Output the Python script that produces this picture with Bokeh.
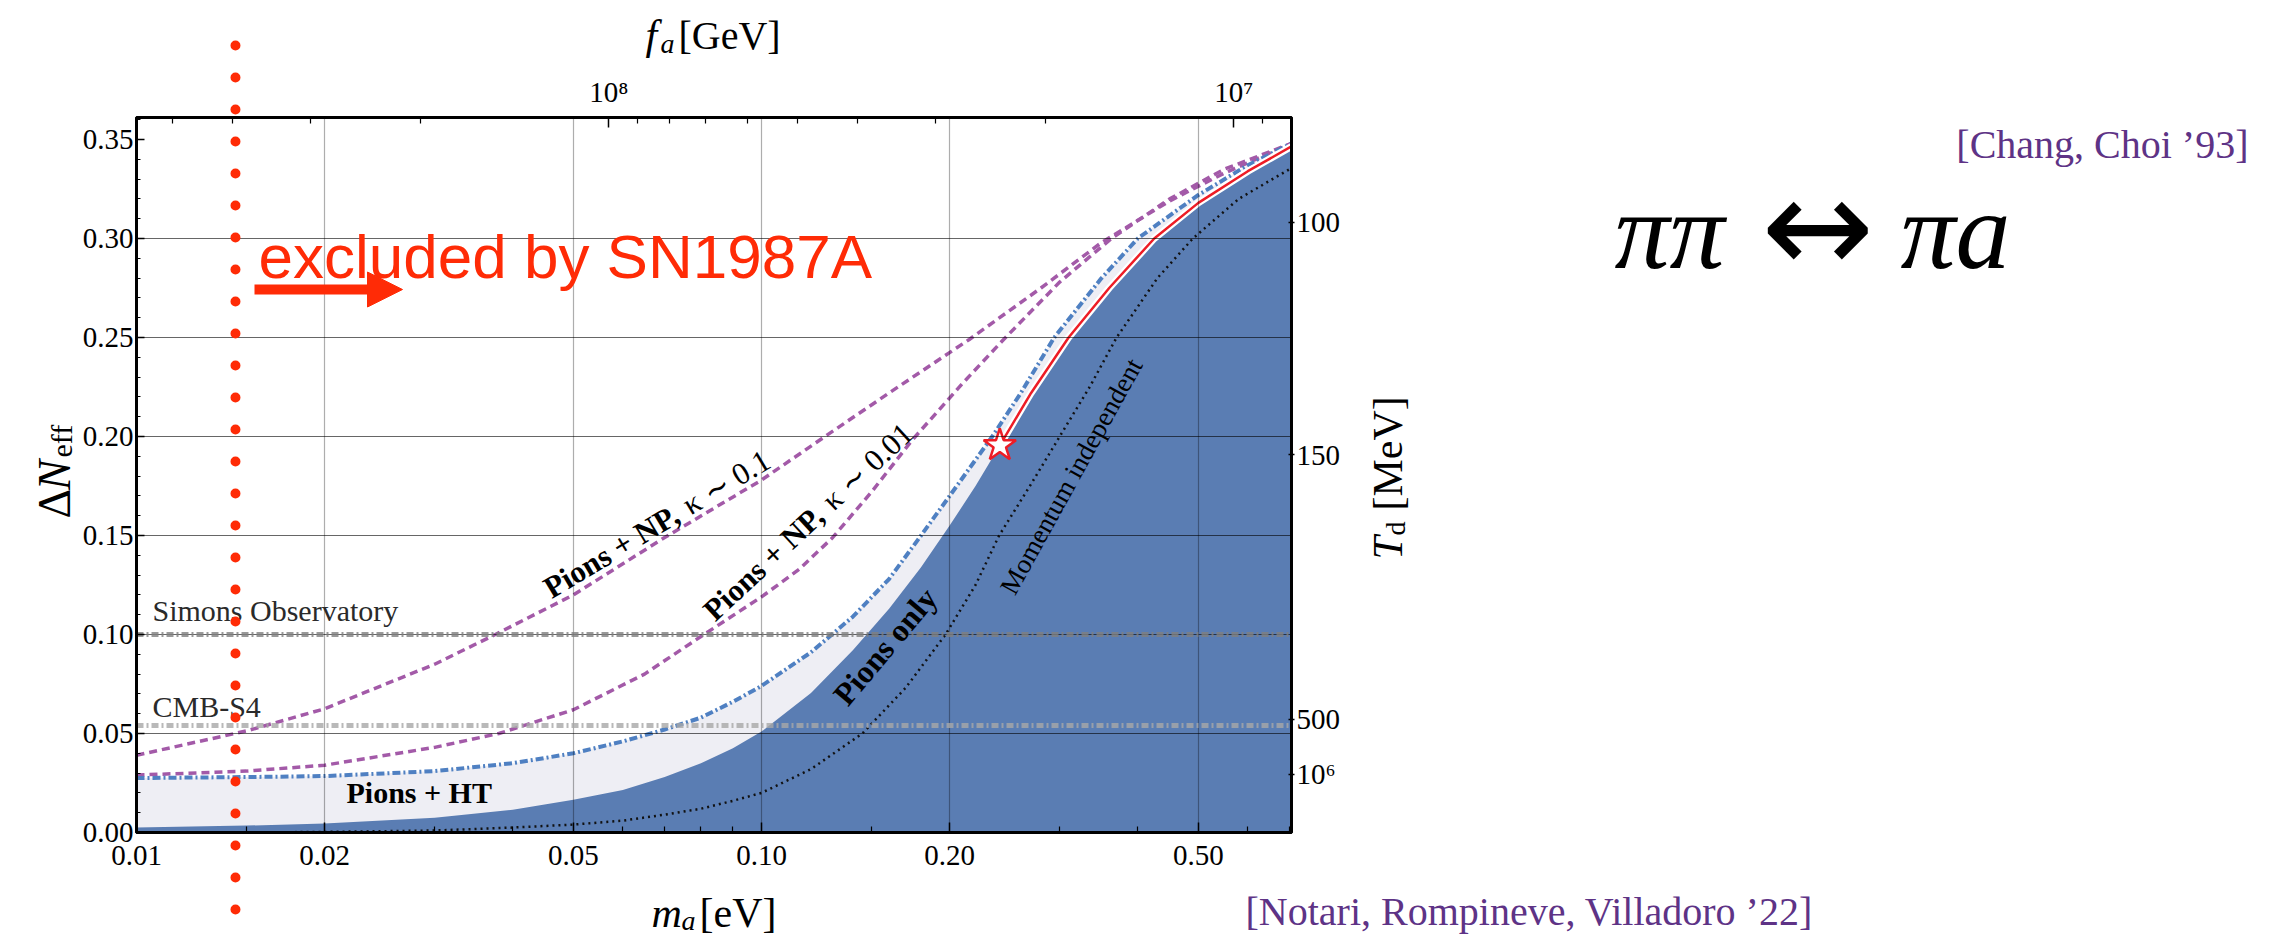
import math
from bokeh.plotting import figure
from bokeh.layouts import column
from bokeh.models import (Range1d, LogScale, LogAxis, LinearAxis, FixedTicker, SingleIntervalTicker,
                          NumeralTickFormatter, CustomJSTickFormatter, Label, Arrow, NormalHead, Span)
from bokeh.embed import file_html
from bokeh.resources import INLINE

# ---------------- data ----------------
# Pions only (filled region, upper boundary up to the star)
M_PIONS = [0.01, 0.015, 0.02, 0.03, 0.04, 0.05, 0.06, 0.07, 0.08, 0.09, 0.10, 0.12, 0.14, 0.16, 0.18, 0.20, 0.22, 0.2406]
DN_PIONS = [0.0025, 0.0035, 0.0045, 0.0075, 0.0115, 0.0165, 0.0215, 0.028, 0.035, 0.0425, 0.051, 0.0705, 0.092, 0.113, 0.134, 0.155, 0.175, 0.1955]
# red (momentum dependent, above the star)
M_RED = [0.2406, 0.27, 0.31, 0.36, 0.425, 0.50, 0.60, 0.7047]
DN_RED = [0.1955, 0.222, 0.25, 0.275, 0.30, 0.318, 0.334, 0.3465]
# Pions + HT (dash-dot)
M_HT = [0.01, 0.015, 0.02, 0.03, 0.04, 0.05, 0.06, 0.07, 0.08, 0.09, 0.10, 0.12, 0.14, 0.16, 0.18, 0.20, 0.234, 0.26, 0.294, 0.35, 0.40, 0.50, 0.60, 0.7047]
DN_HT = [0.0275, 0.028, 0.0285, 0.031, 0.035, 0.040, 0.046, 0.052, 0.058, 0.066, 0.074, 0.091, 0.109, 0.128, 0.150, 0.170, 0.20, 0.222, 0.25, 0.28, 0.30, 0.322, 0.337, 0.348]
# Pions + NP, kappa ~ 0.1
M_NP1 = [0.01, 0.015, 0.02, 0.03, 0.0375, 0.05, 0.07, 0.10, 0.125, 0.16, 0.215, 0.28, 0.35, 0.45, 0.55, 0.7047]
DN_NP1 = [0.039, 0.0513, 0.0625, 0.085, 0.100, 0.120, 0.149, 0.178, 0.199, 0.222, 0.249, 0.275, 0.298, 0.319, 0.333, 0.348]
# Pions + NP, kappa ~ 0.01
M_NP2 = [0.01, 0.015, 0.02, 0.03, 0.038, 0.05, 0.065, 0.08, 0.10, 0.115, 0.13, 0.15, 0.174, 0.21, 0.244, 0.30, 0.363, 0.45, 0.55, 0.7047]
DN_NP2 = [0.029, 0.031, 0.034, 0.043, 0.050, 0.062, 0.080, 0.099, 0.119, 0.133, 0.149, 0.172, 0.198, 0.227, 0.249, 0.278, 0.300, 0.320, 0.335, 0.348]
# Momentum independent (dotted)
M_MI = [0.015, 0.02, 0.03, 0.04, 0.05, 0.06, 0.07, 0.08, 0.09, 0.10, 0.12, 0.145, 0.17, 0.197, 0.22, 0.24, 0.27, 0.30, 0.335, 0.37, 0.43, 0.49, 0.58, 0.7047]
DN_MI = [0.0, 0.0003, 0.001, 0.0025, 0.004, 0.006, 0.009, 0.012, 0.016, 0.020, 0.032, 0.050, 0.073, 0.100, 0.125, 0.150, 0.176, 0.200, 0.225, 0.250, 0.280, 0.300, 0.320, 0.3356]

SO_LEVEL = 0.10      # Simons Observatory
S4_LEVEL = 0.054     # CMB-S4
SN_MA = 0.0144       # SN1987A bound

XTICKS = [0.01, 0.02, 0.05, 0.10, 0.20, 0.50]
XMINOR = [0.015, 0.03, 0.04, 0.06, 0.07, 0.08, 0.09, 0.15, 0.3, 0.4, 0.6, 0.7]
XGRID = [0.02, 0.05, 0.10, 0.20, 0.50]
YGRID = [0.05, 0.10, 0.15, 0.20, 0.25, 0.30]
FA_PER_MA = 5.7e6
FA_TICKS = [1e7, 1e8]
FA_LABELS = ["10⁷", "10⁸"]
FA_MINOR = [9e6, 2e7, 3e7, 4e7, 5e7, 6e7, 7e7, 8e7, 9e7, 2e8, 3e8, 4e8, 5e8]
TD_POS = [0.3082, 0.1908, 0.0571, 0.0293]
TD_LABELS = ["100", "150", "500", "10⁶"]

# ---------------- layout ----------------
W, H = 2283, 937
FL, FR, FT, FB = 136, 1291, 117, 832   # frame edges in page pixels
DEC = 625.0
XMIN = 0.01
XMAX = XMIN * 10 ** ((FR - FL) / DEC)
PXU = 1980.0
YMAX = (FB - FT) / PXU


def mx(X):
    return XMIN * 10 ** ((X - FL) / DEC)


def ny(Y):
    return (FB - Y) / PXU


SERIF = "Liberation Serif"
RED = "#ff2b06"
BLUE = "#5a7db3"
LIGHT = "#eeeef4"
HTBLUE = "#4f80c2"
PURPLE = "#a35aa8"
CITE = "#5e3386"

p = figure(width=W, height=H, x_axis_type="log",
           x_range=Range1d(XMIN, XMAX), y_range=Range1d(0, YMAX),
           output_backend="svg", toolbar_location=None,
           min_border_left=FL, min_border_right=W - FR,
           min_border_top=FT, min_border_bottom=H - FB,
           background_fill_color="white", border_fill_color="white")
p.frame_align = False
p.outline_line_color = "black"
p.outline_line_width = 3

p.extra_x_ranges = {"fa": Range1d(FA_PER_MA / XMIN, FA_PER_MA / XMAX)}
p.extra_x_scales = {"fa": LogScale()}


def style_axis(ax, tin, tout, minin, standoff):
    ax.axis_line_width = 3
    ax.axis_line_color = "black"
    ax.major_tick_in = tin
    ax.major_tick_out = tout
    ax.minor_tick_in = minin
    ax.minor_tick_out = 0
    ax.major_tick_line_width = 1.5
    ax.minor_tick_line_width = 1.2
    ax.major_tick_line_color = "black"
    ax.minor_tick_line_color = "black"
    ax.major_label_text_font = SERIF
    ax.major_label_text_font_size = "29px"
    ax.major_label_text_color = "black"
    ax.major_label_standoff = standoff


xb = p.xaxis[0]
xb.ticker = FixedTicker(ticks=XTICKS, minor_ticks=XMINOR)
xb.formatter = NumeralTickFormatter(format="0.00")
style_axis(xb, 10, 0, 6, 13)

yl = p.yaxis[0]
yl.ticker = SingleIntervalTicker(interval=0.05, num_minor_ticks=5)
yl.formatter = NumeralTickFormatter(format="0.00")
style_axis(yl, 8, 0, 4, 3)

lookup = """
for (let i = 0; i < pos.length; i++) {
  if (Math.abs(pos[i] - tick) <= 1e-6 * Math.abs(pos[i])) { return lab[i]; }
}
return "";
"""
ta = LogAxis(x_range_name="fa", ticker=FixedTicker(ticks=FA_TICKS, minor_ticks=FA_MINOR),
             formatter=CustomJSTickFormatter(args=dict(pos=FA_TICKS, lab=FA_LABELS), code=lookup))
style_axis(ta, 10, 0, 6, 10)
p.add_layout(ta, "above")

ra = LinearAxis(ticker=FixedTicker(ticks=TD_POS, minor_ticks=[]),
                formatter=CustomJSTickFormatter(args=dict(pos=TD_POS, lab=TD_LABELS), code=lookup))
style_axis(ra, 3, 3, 0, 2)
p.add_layout(ra, "right")

p.xgrid.ticker = FixedTicker(ticks=XGRID)
p.ygrid.ticker = FixedTicker(ticks=YGRID)
p.xgrid.grid_line_color = "black"
p.xgrid.grid_line_alpha = 0.32
p.xgrid.grid_line_width = 1.2
p.ygrid.grid_line_color = "black"
p.ygrid.grid_line_alpha = 0.6
p.ygrid.grid_line_width = 1.2
p.xgrid.level = "glyph"
p.ygrid.level = "glyph"

# ---------------- regions ----------------
p.patch(M_HT + [M_HT[-1], M_HT[0]], DN_HT + [0, 0], fill_color=LIGHT, line_color=None, level="underlay")
p.patch(M_PIONS + M_RED[1:] + [M_RED[-1], M_PIONS[0]], DN_PIONS + DN_RED[1:] + [0, 0],
        fill_color=BLUE, line_color=None, level="underlay")

# experimental sensitivities
p.add_layout(Span(location=SO_LEVEL, dimension="width", line_color="#7f7f7f", line_alpha=0.8,
                  line_width=5, line_dash="7 3 2 3", level="glyph"))
p.add_layout(Span(location=S4_LEVEL, dimension="width", line_color="#a8a8a8", line_alpha=0.8,
                  line_width=5, line_dash="7 3 2 3", level="glyph"))

# ---------------- curves ----------------
p.line(M_NP1, DN_NP1, line_color=PURPLE, line_width=3.5, line_dash="8 5")
p.line(M_NP2, DN_NP2, line_color=PURPLE, line_width=3.5, line_dash="8 5")
p.line(M_HT, DN_HT, line_color=HTBLUE, line_width=4, line_dash="8 3 2 3")
p.line(M_MI, DN_MI, line_color="#111111", line_width=2.5, line_dash="2 4")
p.line(M_RED, DN_RED, line_color="white", line_width=7)
p.line(M_RED, DN_RED, line_color="#ee1c25", line_width=2.5)
p.scatter([M_RED[0]], [DN_RED[0]], marker="star", size=34, fill_color="white",
          line_color="#ee1c25", line_width=2.5)


def lab(fig, X, Y, text, size, style="normal", align="left", baseline="alphabetic", angle=0.0,
        color="black", font=SERIF):
    # small correction so that the alphabetic baseline lands where it was read
    if baseline == "alphabetic":
        corr = 0.06 * size + 5
        if angle == 0.0:
            Y = Y - corr
        else:
            X = X - 0.5 * corr
    fig.add_layout(Label(x=mx(X), y=ny(Y), text=text, text_font=font, text_font_size=f"{size}px",
                         text_font_style=style, text_align=align, text_baseline=baseline,
                         angle=angle, text_color=color))


# ---------------- SN1987A text and arrow ----------------
lab(p, 258, 265, "excluded by SN1987A", 62, color=RED, font="Liberation Sans")
p.add_layout(Arrow(end=NormalHead(size=35, fill_color=RED, line_color=RED, line_width=1),
                   x_start=mx(254), y_start=ny(289), x_end=mx(402), y_end=ny(289),
                   line_color=RED, line_width=10))

# in-plot labels
lab(p, 152, 617, "Simons Observatory", 30, color="#2a2a2a")
lab(p, 152, 713, "CMB-S4", 30, color="#2a2a2a")
lab(p, 346, 799, "Pions + HT", 30, style="bold")


def along(X, Y, deg, text1, text2, size, w1):
    a = math.radians(deg)
    lab(p, X, Y, text1, size, style="bold", baseline="middle", angle=a)
    lab(p, X + w1 * math.cos(a), Y - w1 * math.sin(a), text2, size, baseline="middle", angle=a)


along(545.8, 589.8, 31, "Pions + NP,", "κ ∼ 0.1", 31, 162)
along(707.6, 614.3, 43, "Pions + NP,", "κ ∼ 0.01", 31, 162)
lab(p, 884.6, 645.8, "Pions only", 32, style="bold", align="center", baseline="middle", angle=math.radians(50))
lab(p, 1070.8, 475.8, "Momentum independent", 27, align="center", baseline="middle", angle=math.radians(61))

# ---------------- transparent overlay for everything outside the frame ----------------
fg = figure(width=W, height=H, x_axis_type="log",
            x_range=Range1d(mx(0), mx(W)), y_range=Range1d(ny(H), ny(0)),
            x_axis_location=None, y_axis_location=None,
            output_backend="svg", toolbar_location=None,
            min_border=0, min_border_left=0, min_border_right=0, min_border_top=0, min_border_bottom=0,
            background_fill_alpha=0, border_fill_alpha=0,
            styles={"position": "absolute", "left": "0px", "top": "0px"})
fg.frame_align = False
fg.outline_line_color = None
fg.grid.visible = False

# SN1987A bound: dotted vertical line running over the whole slide
fg.segment(x0=[SN_MA], y0=[ny(45)], x1=[SN_MA], y1=[ny(925)], line_color=RED, line_width=10,
           line_dash="0 32", line_cap="round")

# axis titles
lab(fg, 645, 42, "f", 42, style="italic")
lab(fg, 660, 50, "a", 28, style="italic")
lab(fg, 678, 42, "[GeV]", 40)
lab(fg, 651, 920, "m", 42, style="italic")
lab(fg, 681, 927, "a", 28, style="italic")
lab(fg, 699, 920, "[eV]", 42)
R90 = math.pi / 2
lab(fg, 58, 518, "Δ", 46, angle=R90)
lab(fg, 58, 490, "N", 46, style="italic", angle=R90)
lab(fg, 64, 457, "eff", 30, angle=R90)
lab(fg, 1391, 559, "T", 42, style="italic", angle=R90)
lab(fg, 1398, 535, "d", 28, angle=R90)
lab(fg, 1391, 510, "[MeV]", 42, angle=R90)

# right-hand slide text
lab(fg, 1614, 242, "ππ", 110, style="italic")
lab(fg, 1817, 226, "↔", 135, align="center", baseline="middle", font="DejaVu Sans")
lab(fg, 2010, 242, "πa", 110, style="italic", align="right")
lab(fg, 2248, 151, "[Chang, Choi ’93]", 40, align="right", color=CITE)
lab(fg, 1245, 918, "[Notari, Rompineve, Villadoro ’22]", 40, color=CITE)

root = column(p, fg, spacing=0, styles={"position": "relative"})

open("out.html", "w").write(file_html(root, INLINE))
